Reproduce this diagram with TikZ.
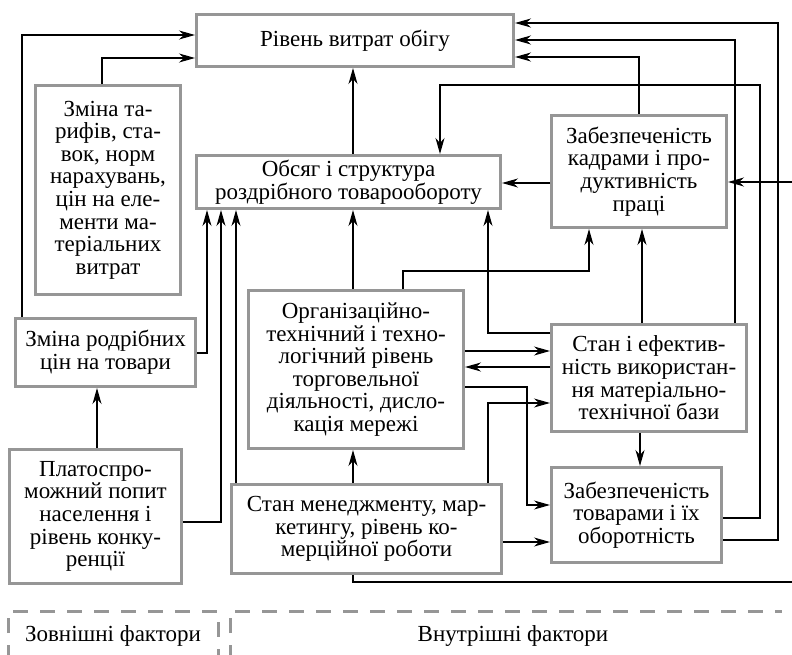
\documentclass[tikz,border=0pt]{standalone}
\usepackage{fontspec}
\setmainfont{Liberation Serif}
\usetikzlibrary{arrows.meta}
\definecolor{boxgray}{RGB}{150,150,150}
\tikzset{
  box/.style={draw=boxgray, line width=3pt, align=center, inner sep=0pt,
    font=\fontsize{23}{22.6}\selectfont, fill=white},
  arr/.style={line width=1.1pt, -{Stealth[length=16pt,width=9pt,inset=5pt]}},
  ln/.style={line width=1.1pt},
  dashbox/.style={draw=boxgray, line width=3pt, dash pattern=on 15pt off 12pt},
  lab/.style={font=\fontsize{23}{22.6}\selectfont}
}
\begin{document}
\begin{tikzpicture}[x=1pt,y=-1pt]
\useasboundingbox (0,0) rectangle (792,655);
% boxes
\node[box, minimum width=317pt, minimum height=52pt] (b1) at (355,40.5) {Рівень витрат обігу};
\node[box, minimum width=145pt, minimum height=209pt] (b2) at (108,190) {Зміна та-\\рифів, ста-\\вок, норм\\нарахувань,\\цін на еле-\\менти ма-\\теріальних\\витрат};
\node[box, minimum width=304pt, minimum height=53pt] (b3) at (348.5,182) {Обсяг і структура\\роздрібного товарообороту};
\node[box, minimum width=175pt, minimum height=112pt] (b4) at (639,171.5) {Забезпеченість\\кадрами і про-\\дуктивність\\праці};
\node[box, minimum width=180pt, minimum height=68pt] (b5) at (105.5,352.5) {Зміна родрібних\\цін на товари};
\node[box, minimum width=215pt, minimum height=158pt] (b6) at (356,369.5) {Організаційно-\\технічний і техно-\\логічний рівень\\торговельної\\діяльності, дисло-\\кація мережі};
\node[box, minimum width=195pt, minimum height=107pt] (b7) at (649,378) {Стан і ефектив-\\ність використан-\\ня матеріально-\\технічної бази};
\node[box, minimum width=172pt, minimum height=134pt] (b8) at (95.5,516.5) {Платоспро-\\можний попит\\населення і\\рівень конку-\\ренції};
\node[box, minimum width=270pt, minimum height=89pt] (b9) at (366.5,529) {Стан менеджменту, мар-\\кетингу, рівень ко-\\мерційної роботи};
\node[box, minimum width=170pt, minimum height=95pt] (b10) at (636.5,515) {Забезпеченість\\товарами і їх\\оборотність};
% connectors into b1
\draw[arr] (22,0 |- b5.north) |- (b1.west |- 0,35);
\draw[arr] (102,0 |- b2.north) |- (b1.west |- 0,58);
\draw[arr] (353,0 |- b3.north) -- (353,0 |- b1.south);
\draw[arr] (639,0 |- b4.north) |- (b1.east |- 0,57);
\draw[arr] (735,0 |- b7.north) |- (b1.east |- 0,40);
\draw[arr] (b10.east |- 0,540) -- (778,540) -- (778,23) -- (b1.east |- 0,23);
% into b3
\draw[arr] (b10.east |- 0,518) -- (760,518) -- (760,85) -- (440,85) -- (440,0 |- b3.north);
\draw[arr] (b4.west |- 0,183) -- (b3.east |- 0,183);
\draw[arr] (b7.west |- 0,333) -| (488,0 |- b3.south);
\draw[arr] (353,0 |- b6.north) -- (353,0 |- b3.south);
\draw[arr] (b5.east |- 0,353) -| (207,0 |- b3.south);
\draw[arr] (b8.east |- 0,522) -| (221,0 |- b3.south);
\draw[arr] (236,0 |- b9.north) -- (236,0 |- b3.south);
% into b4
\draw[arr] (642,0 |- b7.north) -- (642,0 |- b4.south);
\draw[arr] (403,0 |- b6.north) |- (589,271) -- (589,0 |- b4.south);
\draw[arr] (353,0 |- b9.south) |- (794,582) -- (794,182) -- (b4.east |- 0,182);
% b6 <-> b7
\draw[arr] (b6.east |- 0,351) -- (b7.west |- 0,351);
\draw[arr] (b7.west |- 0,367) -- (b6.east |- 0,367);
\draw[arr] (488,0 |- b9.north) |- (b7.west |- 0,403);
% into b10
\draw[arr] (b6.east |- 0,387) -- (527,387) -- (527,505) -- (b10.west |- 0,505);
\draw[arr] (b9.east |- 0,542) -- (b10.west |- 0,542);
\draw[arr] (640,0 |- b7.south) -- (640,0 |- b10.north);
% others
\draw[arr] (353,0 |- b9.north) -- (353,0 |- b6.south);
\draw[arr] (97,0 |- b8.north) -- (97,0 |- b5.south);
% dashed groups
\draw[dashbox] (8,660) -- (8,611) -- (218,611) -- (218,660);
\draw[dashbox] (230,660) -- (230,611) -- (782,611);
\node[lab] (ext) at (113,636) {Зовнішні фактори};
\node[lab] (int) at (513,636) {Внутрішні фактори};
\end{tikzpicture}
\end{document}
